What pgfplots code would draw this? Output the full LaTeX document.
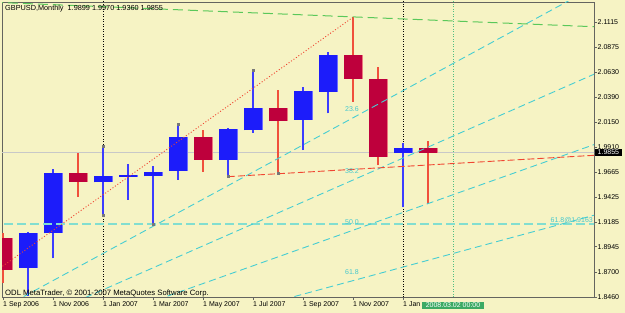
\documentclass[border=0pt]{standalone}
\usepackage{pgfplots}
\pgfplotsset{compat=1.18}
\usepackage{pgfplotstable}
\usepackage{fontspec}
\setmainfont{Liberation Sans}

\definecolor{bg}{RGB}{246,243,196}
\definecolor{bullbody}{RGB}{28,28,250}
\definecolor{bulledge}{RGB}{110,110,255}
\definecolor{bullwick}{RGB}{60,60,255}
\definecolor{bearbody}{RGB}{190,0,60}
\definecolor{bearedge}{RGB}{235,120,125}
\definecolor{bearwick}{RGB}{240,80,60}
\definecolor{fib}{RGB}{70,205,210}
\definecolor{fibh}{RGB}{130,222,208}
\definecolor{fibtext}{RGB}{70,200,205}
\definecolor{gline}{RGB}{90,200,90}
\definecolor{sepgreen}{RGB}{80,190,130}
\definecolor{boxgreen}{RGB}{60,170,100}
\definecolor{frame}{RGB}{100,100,95}
\definecolor{pricegray}{RGB}{200,200,200}
\definecolor{redline}{RGB}{240,70,50}
\definecolor{anchor}{RGB}{120,120,120}

% x: months since Sep 2006, o h l c
\pgfplotstableread{
x o h l c
1 1.8743 1.9090 1.8470 1.9075
2 1.9075 1.9693 1.8834 1.9654
4 1.9567 1.9918 1.9252 1.9631
5 1.9622 1.9741 1.9397 1.9638
6 1.9628 1.9725 1.9165 1.9670
7 1.9677 2.0130 1.9590 2.0002
9 1.9783 2.0090 1.9622 2.0082
10 2.0072 2.0647 2.0046 2.0288
12 2.0169 2.0490 1.9879 2.0452
13 2.0442 2.0828 2.0234 2.0797
16 1.9853 1.9950 1.9326 1.9901
}\bull

\pgfplotstableread{
x o h l c
0 1.9033 1.9075 1.8598 1.8721
3 1.9654 1.9853 1.9428 1.9573
8 2.0000 2.0072 1.9670 1.9783
11 2.0288 2.0459 1.9654 2.0159
14 2.0797 2.1161 2.0346 2.0565
15 2.0562 2.0684 1.9734 1.9815
17 1.9899 1.9970 1.9360 1.9855
}\bear

\newcommand{\fs}{\fontsize{7}{8}\selectfont}
\pgfplotsset{candle/.style={draw=none, mark=none, forget plot,
  error bars/.cd, y dir=plus, y explicit, error mark=none}}

\begin{document}
\begin{tikzpicture}
\fill[bg] (-2pt,-16pt) rectangle (623pt,297pt);
\useasboundingbox (-2pt,-16pt) rectangle (623pt,297pt);
\begin{axis}[
  at={(0,0)}, anchor=south west,
  scale only axis, width=592pt, height=295pt,
  xmin=-0.04, xmax=23.64, ymin=1.846, ymax=2.13082,
  axis line style={draw=frame, line width=0.8pt},
  scaled ticks=false,
  xtick={0,2,4,6,8,10,12,14,16},
  xticklabels={1 Sep 2006,1 Nov 2006,1 Jan 2007,1 Mar 2007,1 May 2007,1 Jul 2007,1 Sep 2007,1 Nov 2007,1 Jan},
  ytick={1.8460,1.8700,1.8945,1.9185,1.9425,1.9665,1.9910,2.0150,2.0390,2.0630,2.0875,2.1115},
  yticklabels={1.8460,1.8700,1.8945,1.9185,1.9425,1.9665,1.9910,2.0150,2.0390,2.0630,2.0875,2.1115},
  xtick pos=bottom, ytick pos=right, yticklabel pos=right,
  tick align=outside, major tick length=3pt,
  tick style={draw=frame, line width=0.6pt},
  xticklabel style={anchor=north west, inner sep=0pt, font=\fs, yshift=-1pt},
  yticklabel style={anchor=west, inner sep=0pt, font=\fs, xshift=0.5pt},
]
% current price line
\addplot[draw=pricegray, line width=1pt] coordinates {(-1,1.9855) (24,1.9855)};
% period separators
\addplot[black, line width=0.6pt, dash pattern=on 1pt off 1.5pt] coordinates {(4,1.80) (4,2.20)};
\addplot[black, line width=0.6pt, dash pattern=on 1pt off 1.5pt] coordinates {(16,1.80) (16,2.20)};
\addplot[sepgreen, line width=0.6pt, dash pattern=on 1pt off 1.5pt] coordinates {(18,1.80) (18,2.20)};

% wicks
\addplot[candle, error bar style={draw=bullwick, solid, line width=1.2pt}]
  table[x=x, y=l, y error plus expr=\thisrow{h}-\thisrow{l}] {\bull};
\addplot[candle, error bar style={draw=bearwick, solid, line width=1.2pt}]
  table[x=x, y=l, y error plus expr=\thisrow{h}-\thisrow{l}] {\bear};
% bodies
\addplot[candle, error bar style={draw=bulledge, solid, line width=19pt}]
  table[x=x, y=o, y error plus expr=\thisrow{c}-\thisrow{o}] {\bull};
\addplot[candle, error bar style={draw=bullbody, solid, line width=17.4pt}]
  table[x=x, y=o, y error plus expr=\thisrow{c}-\thisrow{o}] {\bull};
\addplot[candle, error bar style={draw=bearedge, solid, line width=19pt}]
  table[x=x, y=c, y error plus expr=\thisrow{o}-\thisrow{c}] {\bear};
\addplot[candle, error bar style={draw=bearbody, solid, line width=17.4pt}]
  table[x=x, y=c, y error plus expr=\thisrow{o}-\thisrow{c}] {\bear};

% horizontal level
\addplot[fibh, line width=1.6pt, dash pattern=on 9pt off 4pt] coordinates {(-1,1.9163) (24,1.9163)};
% fibonacci fan from (-10,1.7046) to (14,2.1161)
\addplot[fib, line width=0.9pt, dash pattern=on 7pt off 4pt] coordinates {(-10,1.7046) (24,2.1500)};
\addplot[fib, line width=0.9pt, dash pattern=on 7pt off 4pt] coordinates {(-10,1.7046) (24,2.0649)};
\addplot[fib, line width=0.9pt, dash pattern=on 7pt off 4pt] coordinates {(-10,1.7046) (24,1.9962)};
\addplot[fib, line width=0.9pt, dash pattern=on 7pt off 4pt] coordinates {(-10,1.7046) (24,1.9273)};
\addplot[redline, line width=0.9pt, dash pattern=on 1pt off 2pt] coordinates {(-10,1.7046) (14,2.1161)};
% trendlines
\addplot[redline, line width=0.9pt, dash pattern=on 7pt off 3pt] coordinates {(9,1.9622) (24,1.9833)};
\addplot[gline, line width=1pt, dash pattern=on 10pt off 5pt] coordinates {(-1,2.1312) (24,2.1066)};
% anchor points
\addplot[only marks, mark=square*, mark size=1pt, color=anchor] coordinates {
  (4,1.9918) (4,1.9252) (6,1.9165) (7,2.0130) (9,1.9622) (10,2.0647) (11,1.9654)};

% texts
\node[font=\fs, text=fibtext, inner sep=0pt] at (axis cs:13.96,2.0272) {23.6};
\node[font=\fs, text=fibtext, inner sep=0pt] at (axis cs:13.96,1.9677) {38.2};
\node[font=\fs, text=fibtext, inner sep=0pt] at (axis cs:13.96,1.9181) {50.0};
\node[font=\fs, text=fibtext, inner sep=0pt] at (axis cs:13.96,1.8704) {61.8};
\node[font=\fs, text=fibtext, inner sep=0pt, anchor=east] at (axis cs:23.6,1.9203) {61.8@1.9163};
\node[font=\fontsize{7.3}{8}\selectfont, inner sep=0pt, anchor=north west] at (rel axis cs:0,1) [xshift=3pt, yshift=-3.5pt] {GBPUSD,Monthly\ \ 1.9899 1.9970 1.9360 1.9855};
\node[font=\fontsize{7.7}{8}\selectfont, inner sep=0pt, anchor=base west] at (rel axis cs:0,0) [xshift=3pt, yshift=1.8pt] {ODL MetaTrader, © 2001-2007 MetaQuotes Software Corp.};
\coordinate (bid) at (axis cs:23.64,1.9855);
\coordinate (tbox) at (axis cs:18,1.846);
\end{axis}
\node[fill=black, text=white, font=\fs, anchor=west, inner xsep=2.5pt, inner ysep=1pt, text height=5pt, text depth=0.5pt] at ([xshift=1pt]bid) {1.9855};
\node[fill=boxgreen, text=white, font=\fs, anchor=north, inner xsep=3.5pt, inner ysep=0.8pt, text height=5pt, text depth=0.5pt] at ([yshift=-4.5pt]tbox) {2008.03.02 00:00};
\end{tikzpicture}
\end{document}
